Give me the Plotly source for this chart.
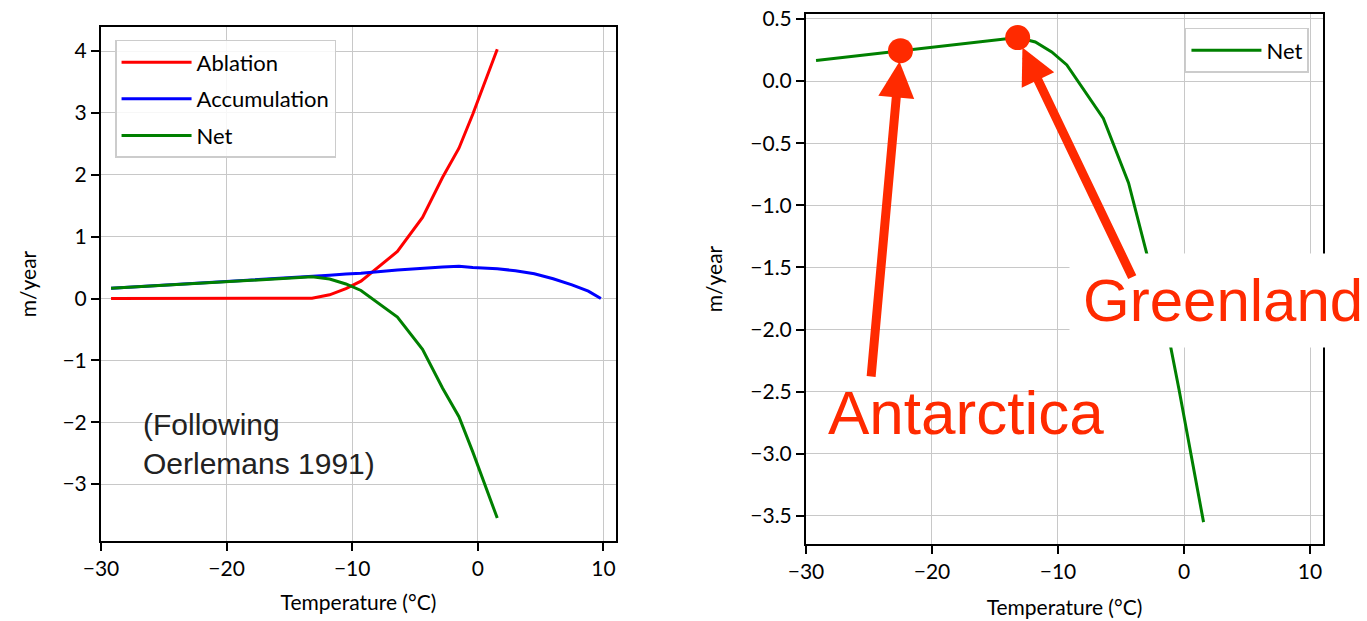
import plotly.graph_objects as go

# Surface mass balance vs. temperature (m/year)
temp = [-29.2, -27.2, -25.2, -23.2, -21.2, -19.2, -17.2, -15.2, -13.2, -11.8,
        -10.5, -9.3, -6.4, -4.4, -2.8, -1.5, -0.4, 1.55]
ablation = [0.0, 0.0, 0.0, 0.0, 0.0, 0.0, 0.0, 0.002, 0.005, 0.06,
            0.16, 0.28, 0.76, 1.31, 1.96, 2.43, 2.98, 4.03]
net = [0.165, 0.188, 0.211, 0.234, 0.257, 0.280, 0.303, 0.325, 0.35, 0.315,
       0.235, 0.13, -0.30, -0.82, -1.45, -1.91, -2.48, -3.55]

accum_temp = [-29.2, -27.2, -25.2, -23.2, -21.2, -19.2, -17.2, -15.2, -13.2, -11.8,
              -10.5, -9.3, -6.4, -4.4, -2.8, -1.5, -0.4, 1.55,
              3.0, 4.5, 6.0, 7.5, 8.8, 9.8]
accumulation = [0.165, 0.188, 0.211, 0.234, 0.257, 0.280, 0.303, 0.327, 0.355, 0.375,
                0.395, 0.41, 0.46, 0.49, 0.51, 0.52, 0.50, 0.48,
                0.45, 0.40, 0.32, 0.22, 0.12, 0.0]

# Ice sheets marked on the net curve
site_names = ["Antarctica", "Greenland"]
site_temp = [-22.5, -13.2]
site_net = [0.245, 0.35]

x_ticks = [-30, -20, -10, 0, 10]
x_ticktext = ["\u221230", "\u221220", "\u221210", "0", "10"]
y1_ticks = [-3, -2, -1, 0, 1, 2, 3, 4]
y1_ticktext = ["\u22123", "\u22122", "\u22121", "0", "1", "2", "3", "4"]
y2_ticks = [0.5, 0.0, -0.5, -1.0, -1.5, -2.0, -2.5, -3.0, -3.5]
y2_ticktext = ["0.5", "0.0", "\u22120.5", "\u22121.0", "\u22121.5", "\u22122.0",
               "\u22122.5", "\u22123.0", "\u22123.5"]

RED = "#ff2a00"
GREEN = "#008000"
FONT = "Lato"

fig = go.Figure()
fig.add_trace(go.Scatter(x=temp, y=ablation, name="Ablation", mode="lines",
                         line=dict(color="#ff0000", width=3),
                         xaxis="x", yaxis="y", legend="legend", legendgroup="abl"))
fig.add_trace(go.Scatter(x=accum_temp, y=accumulation, name="Accumulation", mode="lines",
                         line=dict(color="#0000ff", width=3),
                         xaxis="x", yaxis="y", legend="legend", legendgroup="acc"))
fig.add_trace(go.Scatter(x=temp, y=net, name="Net", mode="lines",
                         line=dict(color=GREEN, width=3),
                         xaxis="x", yaxis="y", legend="legend", legendgroup="net"))

fig.add_trace(go.Scatter(x=temp, y=net, name="Net", mode="lines",
                         line=dict(color=GREEN, width=3),
                         xaxis="x2", yaxis="y2", legend="legend2"))
fig.add_trace(go.Scatter(x=site_temp, y=site_net, mode="markers", showlegend=False,
                         marker=dict(color=RED, size=25),
                         xaxis="x2", yaxis="y2"))

axis_style = dict(
    showline=True, mirror=True, linecolor="black", linewidth=2,
    ticks="outside", ticklen=8, tickwidth=1.5, tickcolor="black",
    showgrid=True, gridcolor="#c8c8c8", gridwidth=1, zeroline=False,
    automargin=False,
    tickfont=dict(family=FONT, size=21, color="black"),
    title_font=dict(family=FONT, size=21, color="black"),
)

fig.update_layout(
    width=1367, height=621,
    margin=dict(l=101, r=44, t=14, b=77, autoexpand=False),
    paper_bgcolor="white", plot_bgcolor="white",
    xaxis=dict(axis_style, domain=[0, 0.4214], range=[-30, 11], anchor="y",
               tickmode="array", tickvals=x_ticks, ticktext=x_ticktext,
               title=dict(text="Temperature (\u00b0C)", standoff=16)),
    yaxis=dict(axis_style, domain=[0.0057, 0.9755], range=[-3.92, 4.39], anchor="x",
               tickmode="array", tickvals=y1_ticks, ticktext=y1_ticktext,
               title=dict(text="m/year", standoff=20)),
    xaxis2=dict(axis_style, domain=[0.5769, 1.0], range=[-30, 11.03], anchor="y2",
                tickmode="array", tickvals=x_ticks, ticktext=x_ticktext,
                title=dict(text="Temperature (\u00b0C)", standoff=18)),
    yaxis2=dict(axis_style, domain=[0, 1], range=[-3.726, 0.54], anchor="x2",
                tickmode="array", tickvals=y2_ticks, ticktext=y2_ticktext,
                title=dict(text="m/year", standoff=22)),
    legend=dict(x=0.0115, y=0.951, xanchor="left", yanchor="top",
                bgcolor="rgba(255,255,255,0.85)", bordercolor="#cccccc", borderwidth=1.5,
                font=dict(family=FONT, size=22, color="black"),
                itemwidth=70, tracegroupgap=5,
                entrywidth=235, entrywidthmode="pixels"),
    legend2=dict(x=0.9885, y=0.9736, xanchor="right", yanchor="top",
                 bgcolor="rgba(255,255,255,0.85)", bordercolor="#cccccc", borderwidth=1.5,
                 font=dict(family=FONT, size=22, color="black"),
                 itemwidth=70, entrywidth=132, entrywidthmode="pixels"),
    showlegend=True,
)

label_font = dict(family="Liberation Sans", size=60, color=RED)

annotations = [
    dict(x=-26.8, y=-2.36, xref="x", yref="y", showarrow=False,
         text="(Following<br>Oerlemans 1991)", align="left",
         xanchor="left", yanchor="middle",
         font=dict(family="Liberation Sans", size=30, color="#222222")),
    # Antarctica label and arrow
    dict(x=-28.45, y=-2.665, xref="x2", yref="y2", showarrow=False,
         text=site_names[0], xanchor="left", yanchor="middle",
         font=dict(label_font, size=62)),
    dict(x=site_temp[0], y=site_net[0], xref="x2", yref="y2",
         ax=-24.84, ay=-2.39, axref="x2", ayref="y2", text="",
         showarrow=True, arrowhead=2, arrowwidth=9, arrowsize=0.8,
         arrowcolor=RED, standoff=11),
    # Greenland label (boxed) and arrow
    dict(x=-9.13, y=-1.77, xref="x2", yref="y2", showarrow=False,
         text=site_names[1], xanchor="left", yanchor="middle", font=label_font,
         bgcolor="white", borderpad=13),
    dict(x=site_temp[1], y=site_net[1], xref="x2", yref="y2",
         ax=-4.05, ay=-1.59, axref="x2", ayref="y2", text="",
         showarrow=True, arrowhead=2, arrowwidth=9, arrowsize=0.8,
         arrowcolor=RED, standoff=11),
]
fig.update_layout(annotations=annotations)

fig.write_html("out.html")
